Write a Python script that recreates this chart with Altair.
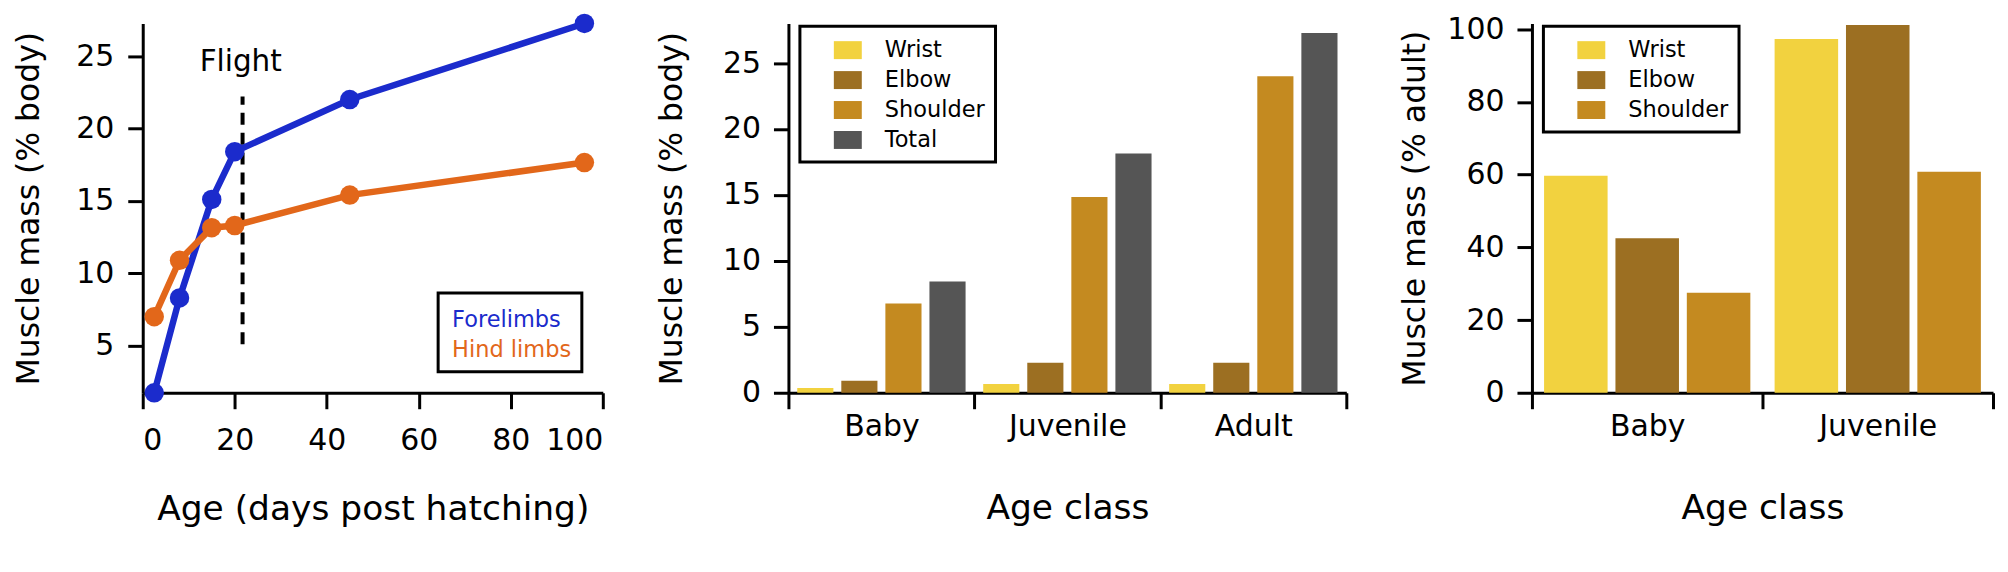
import altair as alt
import pandas as pd

FONT = "DejaVu Sans"

# ---------------- data ----------------
# Panel 1: muscle mass vs age
age_days = [2.5, 8, 15, 20, 45, 96]
forelimbs = [1.75, 8.3, 15.1, 18.4, 22.0, 27.25]
hind_limbs = [7.0, 10.9, 13.15, 13.3, 15.4, 17.65]
limb_series = ["Forelimbs", "Hind limbs"]
limb_colors = ["#1b2bcc", "#e2671a"]

flight_day = [21.7]
flight_low = [5.1]
flight_high = [22.2]
flight_text = ["Flight"]
flight_text_x = [21.3]
flight_text_y = [24.0]

# Panel 2: muscle mass (% body) by age class
age_classes = ["Baby", "Juvenile", "Adult"]
joints = ["Wrist", "Elbow", "Shoulder", "Total"]
wrist_body = [0.36, 0.66, 0.66]
elbow_body = [0.91, 2.27, 2.27]
shoulder_body = [6.77, 14.85, 24.0]
total_body = [8.44, 18.14, 27.27]

# Panel 3: muscle mass (% adult)
adult_classes = ["Baby", "Juvenile"]
adult_joints = ["Wrist", "Elbow", "Shoulder"]
wrist_adult = [59.7, 97.3]
elbow_adult = [42.5, 101.2]
shoulder_adult = [27.5, 60.8]

joint_colors = ["#f2d23f", "#9c6f22", "#c48a20", "#555555"]

# ---------------- frames ----------------
limb_df = pd.DataFrame({
    "age": age_days + age_days,
    "mass": forelimbs + hind_limbs,
    "series": [limb_series[0]] * len(age_days) + [limb_series[1]] * len(age_days),
})
flight_rule_df = pd.DataFrame({"age": flight_day, "mass": flight_low, "mass2": flight_high})
flight_text_df = pd.DataFrame({"age": flight_text_x, "mass": flight_text_y, "label": flight_text})

body_rows = []
for i, c in enumerate(age_classes):
    for j, v in zip(joints, [wrist_body[i], elbow_body[i], shoulder_body[i], total_body[i]]):
        body_rows.append({"cls": c, "joint": j, "value": v})
body_df = pd.DataFrame(body_rows)

adult_rows = []
for i, c in enumerate(adult_classes):
    for j, v in zip(adult_joints, [wrist_adult[i], elbow_adult[i], shoulder_adult[i]]):
        adult_rows.append({"cls2": c, "joint2": j, "value2": v})
adult_df = pd.DataFrame(adult_rows)

PLOT_H = 370

# ---------------- panel 1 ----------------
x_age = alt.X("age:Q", scale=alt.Scale(domain=[0, 100], nice=False, zero=False),
              axis=alt.Axis(values=[0, 20, 40, 60, 80, 100], title="Age (days post hatching)",
                            tickSize=16, labelPadding=17, titlePadding=37, titleFontSize=34.5))
y_mass = alt.Y("mass:Q", scale=alt.Scale(domain=[1.75, 27.25], nice=False, zero=False),
               axis=alt.Axis(values=[5, 10, 15, 20, 25], title="Muscle mass (% body)",
                             tickSize=15, labelPadding=14, titlePadding=30, titleFontSize=31.5))
color_limb = alt.Color("series:N", scale=alt.Scale(domain=limb_series, range=limb_colors), legend=None)

lines = alt.Chart(limb_df).mark_line(strokeWidth=6.5).encode(x=x_age, y=y_mass, color=color_limb)
points = alt.Chart(limb_df).mark_circle(size=380, opacity=1).encode(x=x_age, y=y_mass, color=color_limb)
flight_rule = alt.Chart(flight_rule_df).mark_rule(strokeDash=[12, 8], strokeWidth=4, color="black").encode(
    x=x_age, y=y_mass, y2="mass2:Q")
flight_lbl = alt.Chart(flight_text_df).mark_text(font=FONT, fontSize=29.5, align="center",
                                                 baseline="alphabetic", color="black").encode(
    x=x_age, y=y_mass, text="label:N")

legend_box = alt.Chart(pd.DataFrame({"k": [0]})).mark_rect(
    fillOpacity=0, stroke="black", strokeWidth=3).encode(
    x=alt.value(296), x2=alt.value(440), y=alt.value(270), y2=alt.value(349))
legend_t1 = alt.Chart(pd.DataFrame({"series": [limb_series[0]]})).mark_text(
    font=FONT, fontSize=22.5, align="left", baseline="alphabetic").encode(
    x=alt.value(310), y=alt.value(304), text="series:N", color=color_limb)
legend_t2 = alt.Chart(pd.DataFrame({"series": [limb_series[1]]})).mark_text(
    font=FONT, fontSize=22.5, align="left", baseline="alphabetic").encode(
    x=alt.value(310), y=alt.value(334), text="series:N", color=color_limb)

panel1 = alt.layer(flight_rule, lines, points, flight_lbl, legend_box, legend_t1, legend_t2).properties(
    width=461, height=PLOT_H)

# ---------------- bar panels ----------------
sym = "M-1,-0.643H1V0.643H-1Z"


def bar_panel(df, cls, joint, value, classes, jnts, colors, ydomain, yvalues, ytitle, ytitle_pad,
              width, pad_in, pad_out):
    return alt.Chart(df).mark_bar(strokeWidth=0).encode(
        x=alt.X(f"{cls}:N", sort=classes, scale=alt.Scale(paddingInner=0, paddingOuter=0),
                axis=alt.Axis(title="Age class", tickBand="extent", labelAngle=0, tickSize=16,
                              labelPadding=3, titlePadding=50, titleFontSize=34.5)),
        xOffset=alt.XOffset(f"{joint}:N", sort=jnts,
                            scale=alt.Scale(domain=jnts, paddingInner=pad_in, paddingOuter=pad_out)),
        y=alt.Y(f"{value}:Q", scale=alt.Scale(domain=ydomain, nice=False, zero=True),
                axis=alt.Axis(values=yvalues, title=ytitle, tickSize=15, labelPadding=13,
                              titlePadding=ytitle_pad, titleFontSize=31.5)),
        color=alt.Color(f"{joint}:N", sort=jnts, scale=alt.Scale(domain=jnts, range=colors),
                        legend=alt.Legend(title=None, orient="none", legendX=11.5, legendY=2.7,
                                          symbolType=sym, symbolSize=784, symbolStrokeWidth=0,
                                          symbolOpacity=1, labelFont=FONT, labelFontSize=22.5,
                                          labelColor="black", padding=10, symbolOffset=24,
                                          rowPadding=4, labelOffset=23, strokeColor="black",
                                          fillColor="white")),
    ).properties(width=width, height=PLOT_H)


panel2 = bar_panel(body_df, "cls", "joint", "value", age_classes, joints, joint_colors, [0, 28],
                   [0, 5, 10, 15, 20, 25], "Muscle mass (% body)", 34, 559, 0.18, 0.2)
panel3 = bar_panel(adult_df, "cls2", "joint2", "value2", adult_classes, adult_joints, joint_colors[:3],
                   [0, 101.6], [0, 20, 40, 60, 80, 100], "Muscle mass (% adult)", 15, 462, 0.11, 0.17)

chart = alt.hconcat(panel1, panel2, panel3, spacing=186, bounds="flush").resolve_scale(
    color="independent", xOffset="independent", x="independent", y="independent"
).resolve_legend(color="independent").properties(
    padding={"left": 5, "top": 2, "right": 5, "bottom": 5}
).configure_axis(
    domainWidth=3, domainColor="black", tickWidth=3, tickColor="black",
    labelColor="black", titleColor="black", labelFont=FONT, titleFont=FONT,
    labelFontSize=30, titleFontWeight="normal", grid=False
).configure_view(strokeWidth=0).configure_legend(strokeWidth=3)

chart.save("out.html", embed_options={"renderer": "svg", "actions": False})
